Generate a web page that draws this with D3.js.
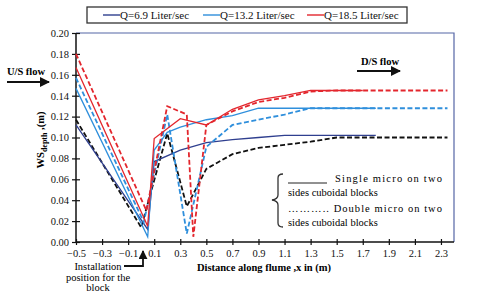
<!DOCTYPE html>
<html>
<head>
<meta charset="utf-8">
<script src="https://cdn.jsdelivr.net/npm/d3@7"></script>
<style>
  body { margin: 0; background: #fff; }
</style>
</head>
<body>
<div id="chart"></div>
<script>
// tick values
var xTicks = [-0.5, -0.3, -0.1, 0.1, 0.3, 0.5, 0.7, 0.9, 1.1, 1.3, 1.5, 1.7, 1.9, 2.1, 2.3];
var yTicks = [0, 0.02, 0.04, 0.06, 0.08, 0.10, 0.12, 0.14, 0.16, 0.18, 0.20];

// single micro blocks (solid)
var q69Single  = [[-0.5,0.112],[0.05,0.012],[0.1,0.077],[0.3,0.088],[0.5,0.095],[0.7,0.098],[0.9,0.100],[1.1,0.102],[1.8,0.102]];
var q132Single = [[-0.5,0.147],[0.05,0.005],[0.1,0.088],[0.2,0.105],[0.3,0.110],[0.5,0.117],[0.7,0.121],[0.9,0.128],[1.8,0.128]];
var q185Single = [[-0.5,0.167],[0.05,0.015],[0.1,0.099],[0.3,0.118],[0.5,0.112],[0.7,0.127],[0.9,0.136],[1.1,0.140],[1.3,0.145],[1.7,0.145]];

// double micro blocks (dashed)
var q69Double  = [[-0.5,0.117],[0.0,0.014],[0.2,0.104],[0.35,0.034],[0.5,0.070],[0.7,0.084],[0.9,0.090],[1.1,0.093],[1.3,0.096],[1.5,0.100],[2.35,0.100]];
var q132Double = [[-0.5,0.157],[0.02,0.019],[0.2,0.122],[0.35,0.008],[0.5,0.091],[0.7,0.112],[0.9,0.117],[1.1,0.122],[1.3,0.128],[2.35,0.128]];
var q185Double = [[-0.5,0.180],[0.04,0.030],[0.2,0.130],[0.35,0.122],[0.4,0.005],[0.5,0.112],[0.7,0.125],[0.9,0.134],[1.1,0.138],[1.3,0.144],[1.5,0.145],[2.35,0.145]];

var legendNames = ['Q=6.9 Liter/sec', 'Q=13.2 Liter/sec', 'Q=18.5 Liter/sec'];
var colors = ['#2f3f8f', '#2f8fdc', '#e3262d'];

var FONT = '"Times New Roman", "Liberation Serif", Times, "DejaVu Serif", serif';

var width = 480, height = 300;
var svg = d3.select('#chart').append('svg')
  .attr('width', width).attr('height', height)
  .attr('font-family', FONT);

var x = d3.scaleLinear().domain([-0.5, 2.4]).range([76, 454]);
var y = d3.scaleLinear().domain([0, 0.2]).range([242, 33]);

// plot frame (top / right)
svg.append('path')
  .attr('d', 'M' + x(-0.5) + ',' + y(0.2) + 'H' + x(2.4) + 'V' + y(0))
  .attr('fill', 'none').attr('stroke', '#5566a6').attr('stroke-width', 1.2);

// axes
var xAxis = svg.append('g')
  .attr('transform', 'translate(0,' + y(0) + ')')
  .call(d3.axisBottom(x).tickValues(xTicks).tickSize(3).tickFormat(d3.format('.1f')));
xAxis.select('.domain').attr('stroke', '#111').attr('stroke-width', 1.5)
  .attr('d', 'M' + x(-0.5) + ',0H' + x(2.4));
xAxis.selectAll('.tick line').attr('y1', -3).attr('stroke', '#111').attr('stroke-width', 1.2);
xAxis.selectAll('.tick text').attr('dy', '0.9em');

var yAxis = svg.append('g')
  .attr('transform', 'translate(' + x(-0.5) + ',0)')
  .call(d3.axisLeft(y).tickValues(yTicks).tickSize(4).tickFormat(d3.format('.2f')));
yAxis.select('.domain').attr('stroke', '#111').attr('stroke-width', 1.5)
  .attr('d', 'M0,' + y(0) + 'V' + y(0.2));
yAxis.selectAll('.tick line').attr('x2', 4).attr('x1', -4).attr('stroke', '#111').attr('stroke-width', 1.2);
yAxis.selectAll('.tick text').attr('x', -7);
xAxis.attr('font-family', FONT).attr('font-size', 10.5);
yAxis.attr('font-family', FONT).attr('font-size', 10.5);
svg.selectAll('.tick text').attr('fill', '#111');

// series
var line = d3.line().x(function (d) { return x(d[0]); }).y(function (d) { return y(d[1]); });
var series = [
  { data: q69Double,  color: '#111',    dash: '5,2.5', w: 1.8 },
  { data: q69Single,  color: colors[0], dash: null,  w: 1.3 },
  { data: q132Double, color: colors[1], dash: '5,2.5', w: 1.8 },
  { data: q132Single, color: colors[1], dash: null,  w: 1.3 },
  { data: q185Double, color: colors[2], dash: '5,2.5', w: 1.8 },
  { data: q185Single, color: colors[2], dash: null,  w: 1.3 }
];

svg.append('g').selectAll('path').data(series).enter().append('path')
  .attr('d', function (d) { return line(d.data); })
  .attr('fill', 'none')
  .attr('stroke', function (d) { return d.color; })
  .attr('stroke-width', function (d) { return d.w; })
  .attr('stroke-dasharray', function (d) { return d.dash; })
  .attr('stroke-linejoin', 'miter');

// legend box
var lg = svg.append('g');
lg.append('rect').attr('x', 87).attr('y', 7).attr('width', 320).attr('height', 16)
  .attr('fill', '#fff').attr('stroke', '#333').attr('stroke-width', 1.3);
var lx = [103, 203, 307];
legendNames.forEach(function (name, i) {
  lg.append('line').attr('x1', lx[i]).attr('x2', lx[i] + 17).attr('y1', 15).attr('y2', 15)
    .attr('stroke', colors[i]).attr('stroke-width', 1.4);
  lg.append('text').attr('x', lx[i] + 17).attr('y', 19).text(name).attr('font-size', 11).attr('fill', '#111');
});

// arrow marker
svg.append('defs').append('marker')
  .attr('id', 'arr').attr('viewBox', '0 0 10 10').attr('refX', 9).attr('refY', 5)
  .attr('markerWidth', 5).attr('markerHeight', 5).attr('orient', 'auto')
  .append('path').attr('d', 'M0,0L10,5L0,10z').attr('fill', '#111');

// flow annotations
svg.append('text').attr('x', 26).attr('y', 75).attr('text-anchor', 'middle')
  .attr('font-size', 10.5).attr('font-weight', 'bold').text('U/S flow');
svg.append('line').attr('x1', 7).attr('x2', 49).attr('y1', 82).attr('y2', 82)
  .attr('stroke', '#111').attr('stroke-width', 2).attr('marker-end', 'url(#arr)');
svg.append('text').attr('x', 380).attr('y', 65).attr('text-anchor', 'middle')
  .attr('font-size', 10.5).attr('font-weight', 'bold').text('D/S flow');
svg.append('line').attr('x1', 357).attr('x2', 400).attr('y1', 71).attr('y2', 71)
  .attr('stroke', '#111').attr('stroke-width', 2).attr('marker-end', 'url(#arr)');

// axis titles
var yt = svg.append('text').attr('transform', 'translate(44,140) rotate(-90)')
  .attr('text-anchor', 'middle').attr('font-size', 10.5).attr('font-weight', 'bold');
yt.append('tspan').text('WS');
yt.append('tspan').attr('dy', 3).attr('font-size', 8).text('depth');
yt.append('tspan').attr('dy', -3).text(' ,(m)');

svg.append('text').attr('x', 264).attr('y', 271).attr('text-anchor', 'middle')
  .attr('font-size', 10.5).attr('font-weight', 'bold').text('Distance along flume ,x in (m)');

// installation note
['Installation', 'position for the', 'block'].forEach(function (t, i) {
  svg.append('text').attr('x', 98).attr('y', 270 + i * 10.5).attr('text-anchor', 'middle')
    .attr('font-size', 10.5).text(t);
});
svg.append('path').attr('d', 'M124,266H143V251')
  .attr('fill', 'none').attr('stroke', '#111').attr('stroke-width', 1.8).attr('marker-end', 'url(#arr)');

// curly brace for the note
svg.append('path')
  .attr('d', 'M283,174Q278,174 278,178V195Q278,199 272,200Q278,201 278,205V223Q278,227 283,227')
  .attr('fill', 'none').attr('stroke', '#333').attr('stroke-width', 1.3);
svg.append('line').attr('x1', 288).attr('x2', 327).attr('y1', 183).attr('y2', 183)
  .attr('stroke', '#222').attr('stroke-width', 1);
var noteLines = [
  { x: 335, y: 182, t: 'Single micro on two', w: 107 },
  { x: 288, y: 196, t: 'sides cuboidal blocks' },
  { x: 288, y: 212, t: '……….. Double micro on two', w: 154 },
  { x: 288, y: 226, t: 'sides cuboidal blocks' }
];
noteLines.forEach(function (n) {
  var t = svg.append('text').attr('x', n.x).attr('y', n.y).attr('font-size', 10.5).text(n.t);
  if (n.w) t.attr('textLength', n.w).attr('lengthAdjust', 'spacing');
});
</script>
</body>
</html>
